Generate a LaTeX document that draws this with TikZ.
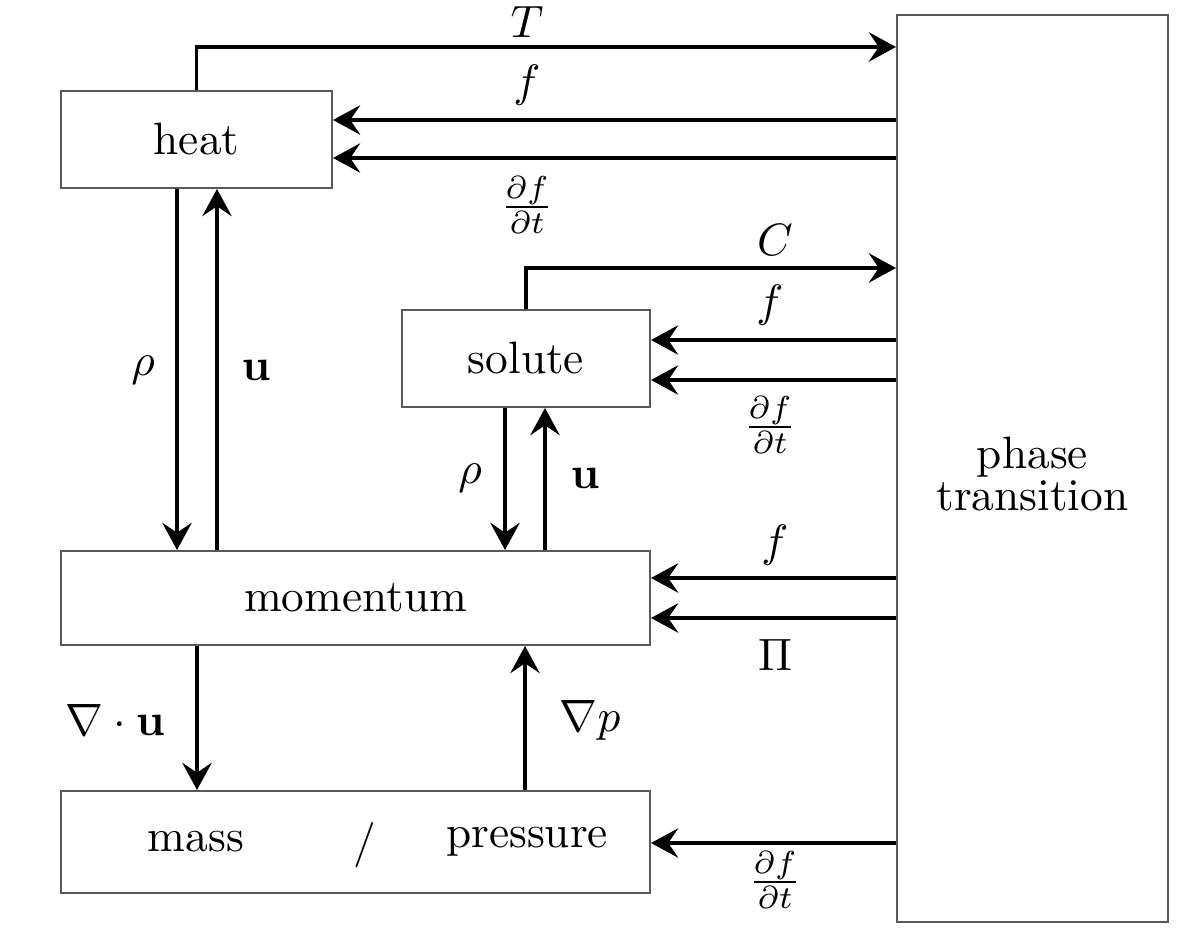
\documentclass[tikz,border=0pt]{standalone}
\usetikzlibrary{arrows.meta}
\begin{document}
\begin{tikzpicture}[x=0.2205pt,y=-0.2205pt,
  box/.style={draw=black!65,line width=0.45pt,rectangle,inner sep=0pt},
  arr/.style={line width=0.7pt,-{Stealth[length=6pt,width=6.5pt,inset=2.2pt]}},
  lab/.style={inner sep=0pt}]
\useasboundingbox (0,0) rectangle (1180,929);
\node[box,minimum width=271*0.2205pt,minimum height=97*0.2205pt] (heat) at (196.5,139.5) {heat};
\node[box,minimum width=248*0.2205pt,minimum height=97*0.2205pt] (solute) at (526,358.5) {solute};
\node[box,minimum width=589*0.2205pt,minimum height=94*0.2205pt] (mom) at (355.5,598) {momentum};
\node[box,minimum width=589*0.2205pt,minimum height=102*0.2205pt] (mass) at (355.5,842) {};
\node[lab] (tmass) at (196,842) {mass};
\node[lab] (tslash) at (365,845) {/};
\node[lab] (tpress) at (527,842) {pressure};
\node[box,minimum width=271*0.2205pt,minimum height=907*0.2205pt] (phase) at (1032.5,468.5) {};
\node[lab,align=center] (tphase) at (1032.5,474) {phase\\[-2.6pt]transition};
% heat connections
\draw[arr] (heat.north) |- (phase.west |- 0,47);
\draw[arr] (phase.west |- 0,120) -- (heat.east |- 0,120);
\draw[arr] (phase.west |- 0,158) -- (heat.east |- 0,158);
\node[lab] (lT) at (527,22) {$T$};
\node[lab] (lf1) at (527,85) {$f$};
\node[lab] (ld1) at (527,205) {$\frac{\partial f}{\partial t}$};
% solute connections
\draw[arr] (solute.north) |- (phase.west |- 0,268);
\draw[arr] (phase.west |- 0,340) -- (solute.east |- 0,340);
\draw[arr] (phase.west |- 0,380) -- (solute.east |- 0,380);
\node[lab] (lC) at (775,240) {$C$};
\node[lab] (lf2) at (770,305) {$f$};
\node[lab] (ld2) at (770,425) {$\frac{\partial f}{\partial t}$};
% heat <-> momentum
\draw[arr] (heat.south -| 177,0) -- (mom.north -| 177,0);
\draw[arr] (mom.north -| 217,0) -- (heat.south -| 217,0);
\node[lab] (lr1) at (143,370) {$\rho$};
\node[lab] (lu1) at (256,370) {$\mathbf{u}$};
% solute <-> momentum
\draw[arr] (solute.south -| 505,0) -- (mom.north -| 505,0);
\draw[arr] (mom.north -| 545,0) -- (solute.south -| 545,0);
\node[lab] (lr2) at (470,478) {$\rho$};
\node[lab] (lu2) at (585,478) {$\mathbf{u}$};
% phase -> momentum
\draw[arr] (phase.west |- 0,578) -- (mom.east |- 0,578);
\draw[arr] (phase.west |- 0,618) -- (mom.east |- 0,618);
\node[lab] (lf3) at (775,545) {$f$};
\node[lab] (lPi) at (775,655) {$\Pi$};
% momentum <-> mass
\draw[arr] (mom.south -| 197,0) -- (mass.north -| 197,0);
\draw[arr] (mass.north -| 525,0) -- (mom.south -| 525,0);
\node[lab] (ldiv) at (115,720) {$\nabla\cdot\mathbf{u}$};
\node[lab] (lgrad) at (590,720) {$\nabla p$};
% phase -> mass
\draw[arr] (phase.west |- 0,843) -- (mass.east |- 0,843);
\node[lab] (ld3) at (775,880) {$\frac{\partial f}{\partial t}$};
\end{tikzpicture}
\end{document}
